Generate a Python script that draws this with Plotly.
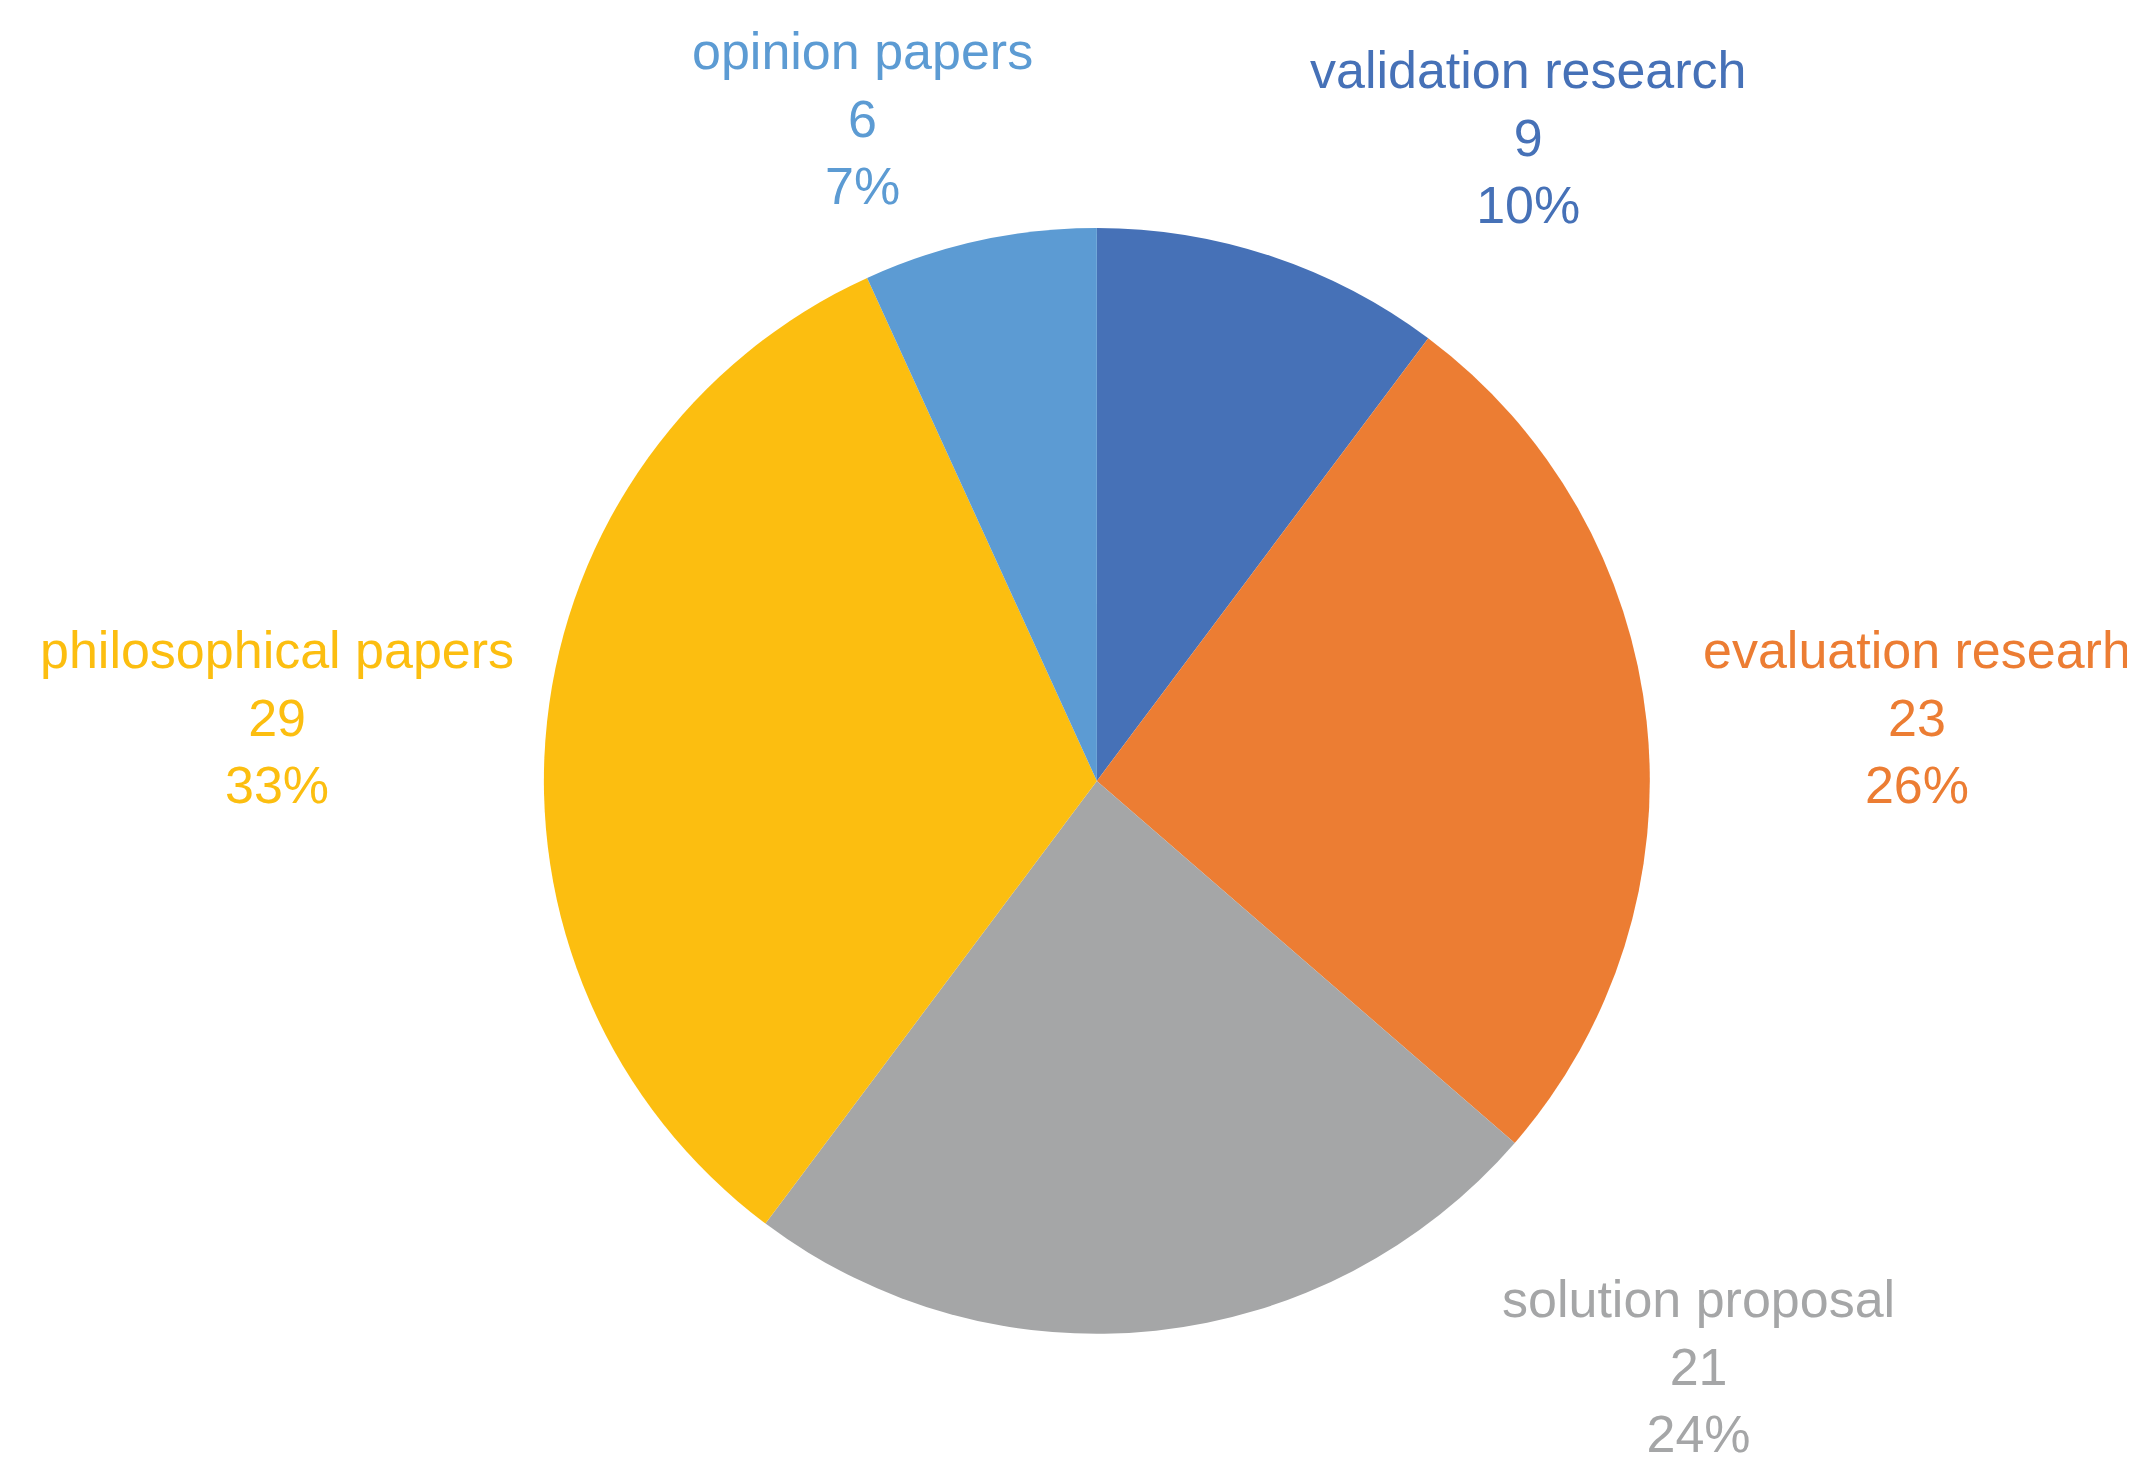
import plotly.graph_objects as go

# Data
labels = ["validation research", "evaluation researh", "solution proposal", "philosophical papers", "opinion papers"]
values = [9, 23, 21, 29, 6]
colors = ["#4671b7", "#ec7d33", "#a5a6a7", "#fcbe10", "#5c9bd3"]

# label anchor points (paper coords), one per slice
label_x = [0.712, 0.894, 0.792, 0.126, 0.400]
label_y = [0.912, 0.519, 0.079, 0.519, 0.925]

total = sum(values)

fig = go.Figure(go.Pie(
    labels=labels,
    values=values,
    sort=False,
    direction="clockwise",
    rotation=0,
    marker=dict(colors=colors, line=dict(width=0)),
    textinfo="none",
    hoverinfo="label+value+percent",
    showlegend=False,
    domain=dict(x=[0.251, 0.769], y=[0.101, 0.851]),
))

for lab, val, col, x, y in zip(labels, values, colors, label_x, label_y):
    pct = round(100 * val / total)
    fig.add_annotation(
        x=x, y=y, xref="paper", yref="paper",
        xanchor="center", yanchor="middle",
        text=f"{lab}<br>{val}<br>{pct}%",
        showarrow=False,
        font=dict(family="Liberation Sans, Arial", size=52, color=col),
        align="center",
    )

fig.update_layout(
    width=2135, height=1475,
    margin=dict(l=0, r=0, t=0, b=0),
    paper_bgcolor="white",
    plot_bgcolor="white",
)

fig.write_html("out.html")
